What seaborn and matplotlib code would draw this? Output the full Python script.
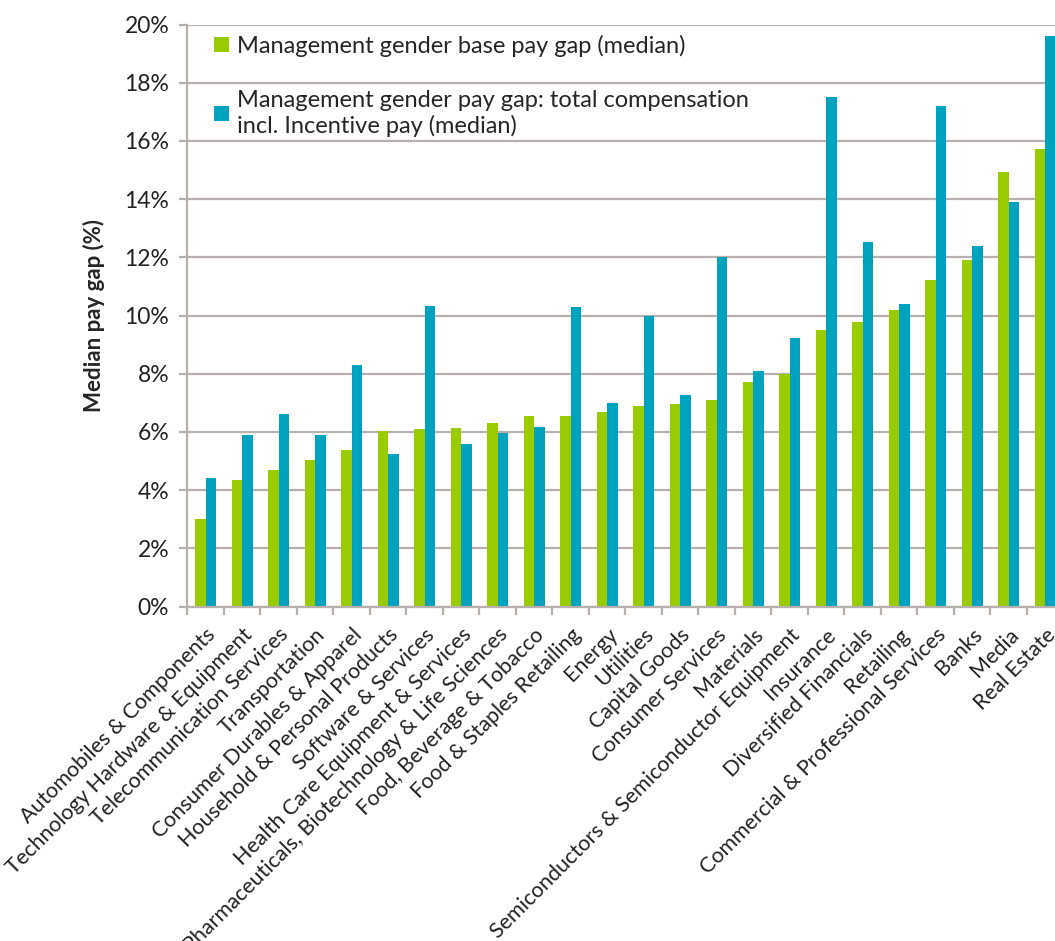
import numpy as np
import pandas as pd
import matplotlib
matplotlib.use("Agg")
import matplotlib.pyplot as plt
from matplotlib import font_manager
import seaborn as sns

industries = [
    "Automobiles & Components",
    "Technology Hardware & Equipment",
    "Telecommunication Services",
    "Transportation",
    "Consumer Durables & Apparel",
    "Household & Personal Products",
    "Software & Services",
    "Health Care Equipment & Services",
    "Pharmaceuticals, Biotechnology & Life Sciences",
    "Food, Beverage & Tobacco",
    "Food & Staples Retailing",
    "Energy",
    "Utilities",
    "Capital Goods",
    "Consumer Services",
    "Materials",
    "Semiconductors & Semiconductor Equipment",
    "Insurance",
    "Diversified Financials",
    "Retailing",
    "Commercial & Professional Services",
    "Banks",
    "Media",
    "Real Estate",
]

base_pay_gap = [3.0, 4.35, 4.7, 5.02, 5.38, 6.04, 6.11, 6.15, 6.3, 6.54, 6.56, 6.69,
                6.88, 6.95, 7.1, 7.73, 7.98, 9.51, 9.78, 10.19, 11.23, 11.91, 14.92, 15.71]
total_comp_gap = [4.43, 5.88, 6.63, 5.91, 8.29, 5.23, 10.33, 5.58, 5.95, 6.16, 10.3, 6.98,
                  10.0, 7.27, 12.0, 8.1, 9.22, 17.52, 12.51, 10.4, 17.2, 12.4, 13.89, 19.61]

series_names = [
    "Management gender base pay gap (median)",
    "Management gender pay gap: total compensation\nincl. Incentive pay (median)",
]
series_colors = ["#99cc00", "#00a2be"]
y_ticks = list(range(0, 21, 2))

df = pd.DataFrame({
    "industry": industries * 2,
    "gap": base_pay_gap + total_comp_gap,
    "series": [series_names[0]] * len(industries) + [series_names[1]] * len(industries),
})

sns.set_theme(style="white")
available = {f.name for f in font_manager.fontManager.ttflist}
family = "Lato" if "Lato" in available else "DejaVu Sans"
plt.rcParams["font.family"] = [family, "DejaVu Sans"]

grid_color = "#b8b0ac"

fig = plt.figure(figsize=(10.55, 9.41), dpi=100)
ax = fig.add_axes([187.3 / 1055, (941 - 606.5) / 941, (1063.3 - 187.3) / 1055, (606.5 - 24.5) / 941])

sns.barplot(data=df, x="industry", y="gap", hue="series", order=industries,
            hue_order=series_names, palette=series_colors, width=0.575, gap=0,
            linewidth=0, saturation=1, ax=ax, legend=True)

ax.set_xlim(-0.5, len(industries) - 0.5)
ax.set_ylim(0, 20)
ax.set_yticks(y_ticks)
ax.set_yticklabels([f"{t}%" for t in y_ticks], fontsize=16.5, color="#222222")
ax.yaxis.grid(True, color=grid_color, linewidth=1.6)
ax.set_axisbelow(True)

for side in ["top", "right"]:
    ax.spines[side].set_visible(False)
for side in ["left", "bottom"]:
    ax.spines[side].set_color(grid_color)
    ax.spines[side].set_linewidth(1.6)

ax.tick_params(axis="y", which="major", left=True, length=6, width=1.6, color=grid_color, pad=7)
ax.set_xticks(np.arange(len(industries)))
ax.set_xticklabels(industries, rotation=45, ha="right", rotation_mode="anchor",
                   fontsize=15.5, color="#222222")
ax.tick_params(axis="x", which="major", length=0, pad=13)
ax.set_xticks(np.arange(-0.5, len(industries), 1), minor=True)
ax.tick_params(axis="x", which="minor", bottom=True, length=6, width=1.6, color=grid_color)

ax.set_xlabel("")
ax.set_ylabel("Median pay gap (%)", fontsize=16, fontweight="bold", labelpad=14)

handles, labels = ax.get_legend_handles_labels()
ax.legend(handles, labels, loc="upper left", bbox_to_anchor=(0.012, 1.01),
          frameon=False, fontsize=17, handlelength=0.6, handleheight=0.6,
          handletextpad=0.35, labelspacing=1.4, borderpad=0.2, title=None)

fig.savefig("out.png", dpi=100)
